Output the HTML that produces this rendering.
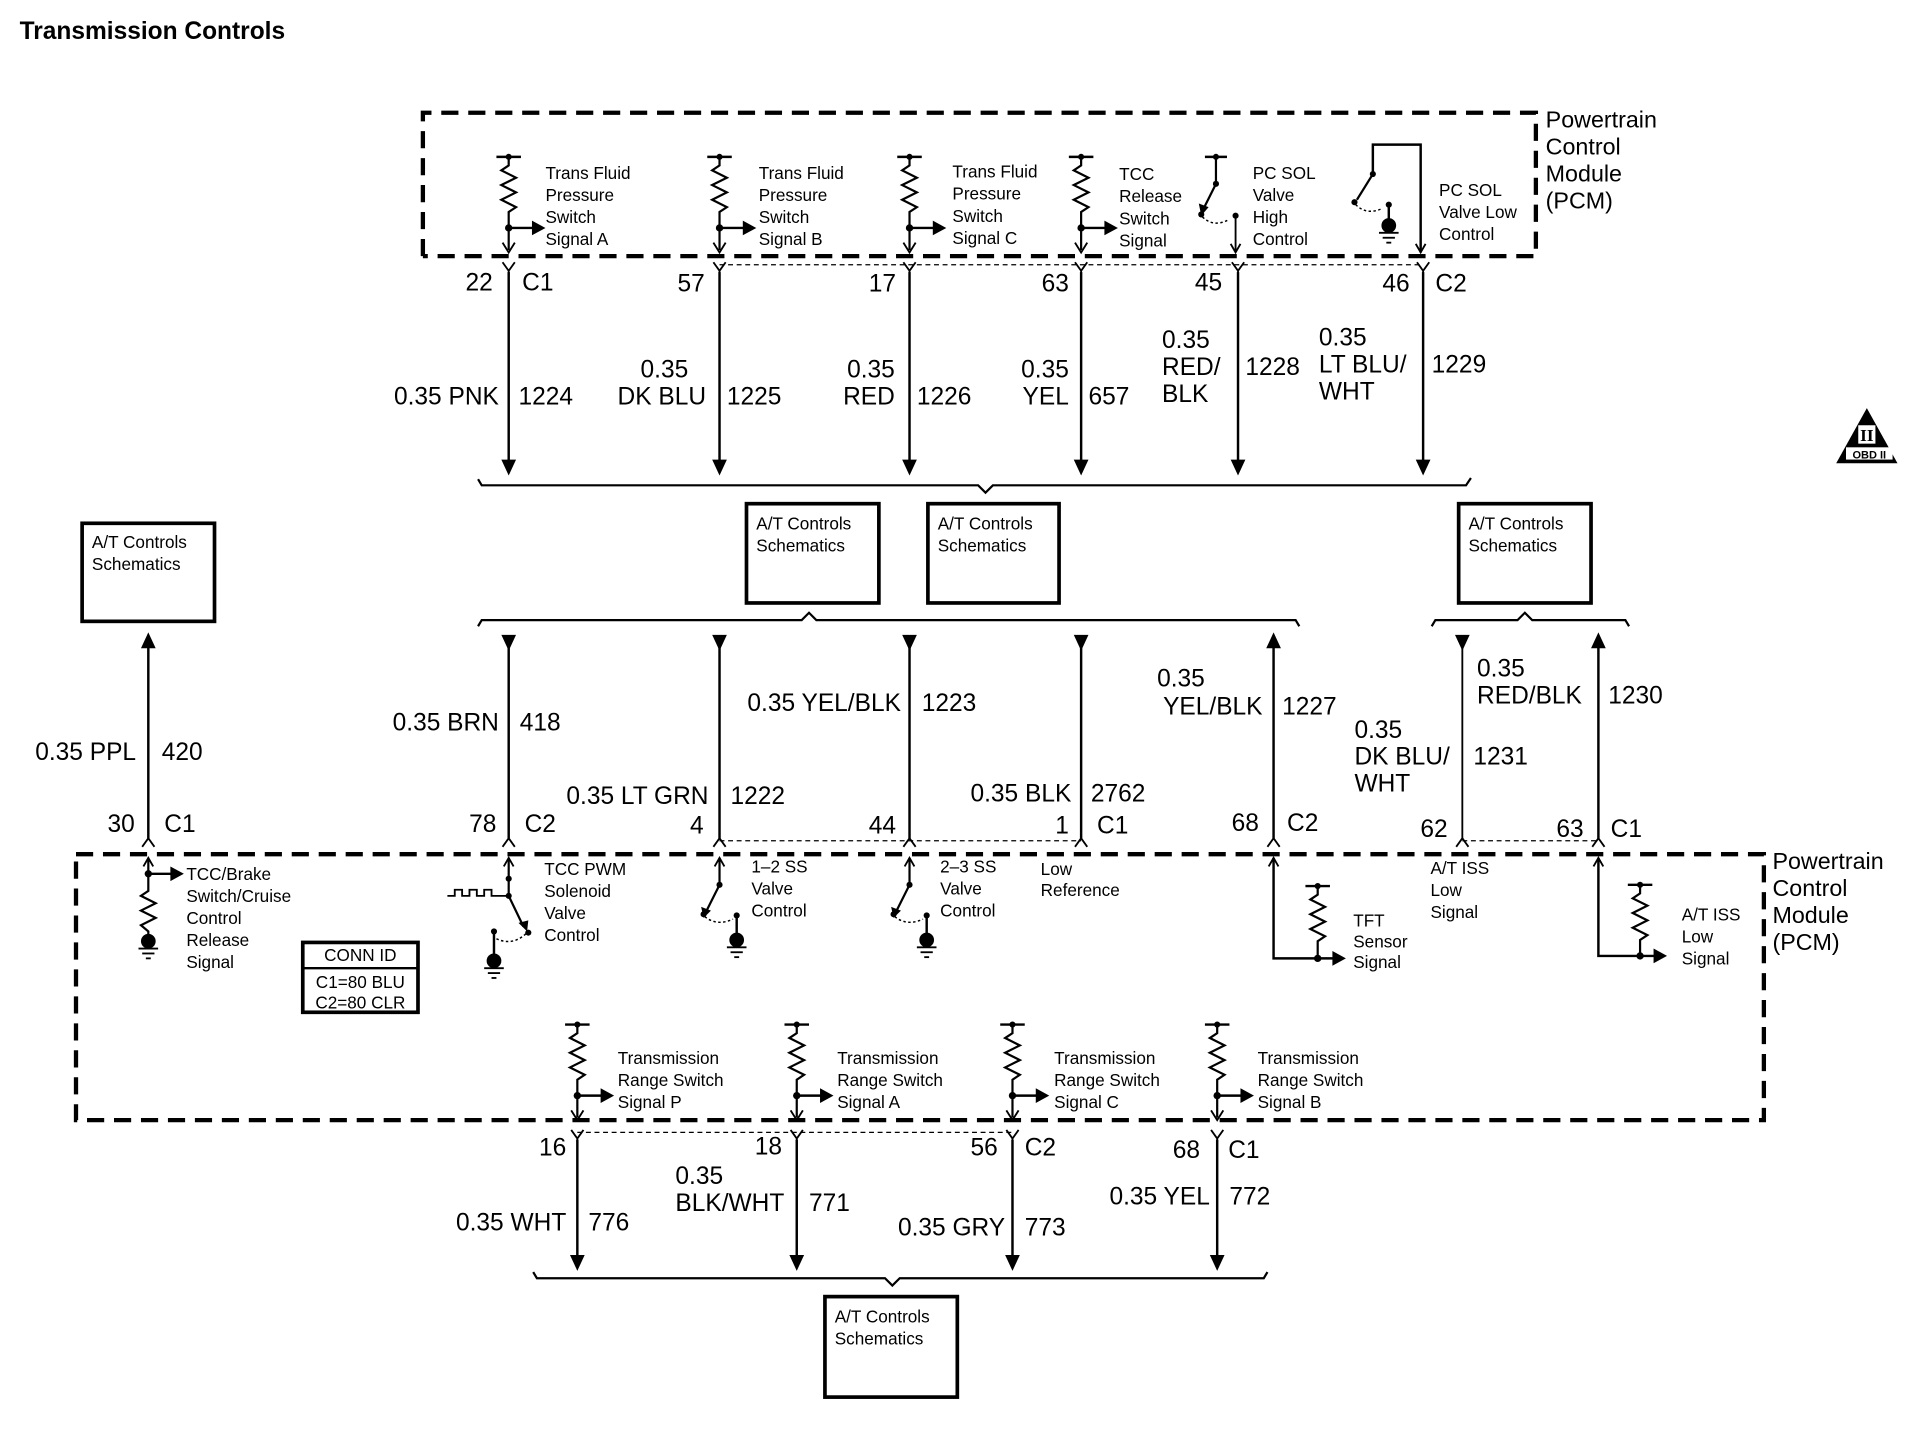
<!DOCTYPE html>
<html><head><meta charset="utf-8"><style>
html,body{margin:0;padding:0;background:#fff;}
svg{display:block;}
text{font-family:"Liberation Sans",sans-serif;fill:#000;}
.s{font-size:14px;}
.b{font-size:20px;}
.p{font-size:19px;}
</style></head><body>
<svg width="1922" height="1440" viewBox="0 0 1568 1175" preserveAspectRatio="none" xmlns="http://www.w3.org/2000/svg">
<defs>
<g id="res">
<line x1="-10" y1="0" x2="10" y2="0" stroke="#000" stroke-width="2"/>
<circle cx="0" cy="0" r="2.5"/>
<polyline points="0,0 0,7 -6,11 6,17 -6,23 6,29 -6,35 6,41 0,45 0,76" fill="none" stroke="#000" stroke-width="1.8"/>
<circle cx="0" cy="58" r="3"/>
<line x1="0" y1="58" x2="20" y2="58" stroke="#000" stroke-width="2"/>
<polygon points="19,52 30,58 19,64"/>
<polyline points="-5,70 0,78 5,70" fill="none" stroke="#000" stroke-width="1.5"/>
</g>
<polygon id="ad" points="-6,0 6,0 0,13"/>
<polygon id="au" points="-6,0 6,0 0,-13"/>
<polyline id="yc" points="-5,0 0,7 5,0 0,7 0,10" fill="none" stroke="#000" stroke-width="1.5"/>
<polyline id="vc" points="-5,0 0,-7 5,0" fill="none" stroke="#000" stroke-width="1.5"/>
<g id="gnd">
<circle cx="0" cy="0" r="6"/>
<line x1="-8" y1="6" x2="8" y2="6" stroke="#000" stroke-width="1.5"/>
<line x1="-5" y1="10" x2="5" y2="10" stroke="#000" stroke-width="1.5"/>
<line x1="-2" y1="14" x2="2" y2="14" stroke="#000" stroke-width="1.5"/>
</g>
</defs>

<text x="16" y="32" style="font-size:20px;font-weight:bold">Transmission Controls</text>

<!-- TOP PCM -->
<path d="M345,209 V92 H1253 V209 H345" fill="none" stroke="#000" stroke-width="3.5" stroke-dasharray="14 8"/>
<text class="p" x="1261" y="104">Powertrain</text>
<text class="p" x="1261" y="126">Control</text>
<text class="p" x="1261" y="148">Module</text>
<text class="p" x="1261" y="170">(PCM)</text>

<use href="#res" x="415" y="128"/>
<use href="#res" x="587" y="128"/>
<use href="#res" x="742" y="128"/>
<use href="#res" x="882" y="128"/>
<g class="s">
<text x="445" y="146">Trans Fluid</text><text x="445" y="164">Pressure</text><text x="445" y="182">Switch</text><text x="445" y="200">Signal A</text>
<text x="619" y="146">Trans Fluid</text><text x="619" y="164">Pressure</text><text x="619" y="182">Switch</text><text x="619" y="200">Signal B</text>
<text x="777" y="145">Trans Fluid</text><text x="777" y="163">Pressure</text><text x="777" y="181">Switch</text><text x="777" y="199">Signal C</text>
<text x="913" y="147">TCC</text><text x="913" y="165">Release</text><text x="913" y="183">Switch</text><text x="913" y="201">Signal</text>
<text x="1022" y="146">PC SOL</text><text x="1022" y="164">Valve</text><text x="1022" y="182">High</text><text x="1022" y="200">Control</text>
<text x="1174" y="160">PC SOL</text><text x="1174" y="178">Valve Low</text><text x="1174" y="196">Control</text>
</g>
<!-- PC SOL high switch -->
<line x1="983" y1="128" x2="1001" y2="128" stroke="#000" stroke-width="2"/>
<circle cx="992" cy="128" r="2.5"/>
<line x1="992" y1="128" x2="992" y2="150" stroke="#000" stroke-width="1.8"/>
<circle cx="992" cy="150" r="2.5"/>
<line x1="992" y1="150" x2="982" y2="170" stroke="#000" stroke-width="1.8"/>
<polygon points="978,166 986,169 980,176"/>
<circle cx="980" cy="175" r="2.5"/>
<path d="M981,177 Q990,186 1003,179" fill="none" stroke="#000" stroke-width="1.2" stroke-dasharray="2 2"/>
<circle cx="1008" cy="176" r="2.5"/>
<line x1="1008" y1="176" x2="1008" y2="206" stroke="#000" stroke-width="1.5"/>
<polyline points="1004,199 1008,206 1012,199" fill="none" stroke="#000" stroke-width="1.5"/>
<!-- PC SOL low -->
<polyline points="1120,142 1120,118 1159,118 1159,206" fill="none" stroke="#000" stroke-width="2"/>
<polyline points="1155,199 1159,206 1163,199" fill="none" stroke="#000" stroke-width="1.5"/>
<circle cx="1120" cy="142" r="2.5"/>
<line x1="1120" y1="142" x2="1107" y2="163" stroke="#000" stroke-width="1.8"/>
<circle cx="1105" cy="165" r="2.5"/>
<path d="M1106,167 Q1115,176 1128,170" fill="none" stroke="#000" stroke-width="1.2" stroke-dasharray="2 2"/>
<circle cx="1133" cy="167" r="2.5"/>
<line x1="1133" y1="167" x2="1133" y2="182" stroke="#000" stroke-width="2"/>
<use href="#gnd" x="1133" y="184"/>

<!-- top connectors -->
<line x1="587" y1="216" x2="1161" y2="216" stroke="#000" stroke-width="1" stroke-dasharray="4 3"/>
<g>
<use href="#yc" x="415" y="214"/><use href="#yc" x="587" y="214"/><use href="#yc" x="742" y="214"/>
<use href="#yc" x="882" y="214"/><use href="#yc" x="1010" y="214"/><use href="#yc" x="1161" y="214"/>
</g>
<g stroke="#000" stroke-width="2">
<line x1="415" y1="222" x2="415" y2="378"/><line x1="587" y1="222" x2="587" y2="378"/>
<line x1="742" y1="222" x2="742" y2="378"/><line x1="882" y1="222" x2="882" y2="378"/>
<line x1="1010" y1="222" x2="1010" y2="378"/><line x1="1161" y1="222" x2="1161" y2="378"/>
</g>
<use href="#ad" x="415" y="375"/><use href="#ad" x="587" y="375"/><use href="#ad" x="742" y="375"/>
<use href="#ad" x="882" y="375"/><use href="#ad" x="1010" y="375"/><use href="#ad" x="1161" y="375"/>
<g class="b">
<text x="402" y="237" text-anchor="end">22</text><text x="426" y="237">C1</text>
<text x="575" y="238" text-anchor="end">57</text>
<text x="731" y="238" text-anchor="end">17</text>
<text x="872" y="238" text-anchor="end">63</text>
<text x="997" y="237" text-anchor="end">45</text>
<text x="1150" y="238" text-anchor="end">46</text><text x="1171" y="238">C2</text>
<text x="407" y="330" text-anchor="end">0.35 PNK</text><text x="423" y="330">1224</text>
<text x="542" y="308" text-anchor="middle">0.35</text><text x="576" y="330" text-anchor="end">DK BLU</text><text x="593" y="330">1225</text>
<text x="730" y="308" text-anchor="end">0.35</text><text x="730" y="330" text-anchor="end">RED</text><text x="748" y="330">1226</text>
<text x="872" y="308" text-anchor="end">0.35</text><text x="872" y="330" text-anchor="end">YEL</text><text x="888" y="330">657</text>
<text x="948" y="284">0.35</text><text x="948" y="306">RED/</text><text x="948" y="328">BLK</text><text x="1016" y="306">1228</text>
<text x="1076" y="282">0.35</text><text x="1076" y="304">LT BLU/</text><text x="1076" y="326">WHT</text><text x="1168" y="304">1229</text>
</g>
<!-- top brace -->
<polyline points="390,391 393,396 798,396 804,402 810,396 1196,396 1200,390" fill="none" stroke="#000" stroke-width="1.8"/>

<!-- schematic boxes -->
<g fill="none" stroke="#000" stroke-width="3">
<rect x="609" y="411" width="108" height="81"/>
<rect x="757" y="411" width="107" height="81"/>
<rect x="1190" y="411" width="108" height="81"/>
<rect x="67" y="427" width="108" height="80"/>
<rect x="673" y="1058" width="108" height="82"/>
</g>
<g class="s">
<text x="617" y="432">A/T Controls</text><text x="617" y="450">Schematics</text>
<text x="765" y="432">A/T Controls</text><text x="765" y="450">Schematics</text>
<text x="1198" y="432">A/T Controls</text><text x="1198" y="450">Schematics</text>
<text x="75" y="447">A/T Controls</text><text x="75" y="465">Schematics</text>
<text x="681" y="1079">A/T Controls</text><text x="681" y="1097">Schematics</text>
</g>

<!-- middle braces -->
<polyline points="390,511 393,506 654,506 660,500 666,506 1057,506 1060,511" fill="none" stroke="#000" stroke-width="1.8"/>
<polyline points="1168,511 1171,506 1238,506 1244,500 1250,506 1326,506 1329,511" fill="none" stroke="#000" stroke-width="1.8"/>

<!-- middle wires -->
<g stroke="#000" stroke-width="2">
<line x1="121" y1="525" x2="121" y2="684"/>
<line x1="415" y1="520" x2="415" y2="684"/><line x1="587" y1="520" x2="587" y2="684"/>
<line x1="742" y1="520" x2="742" y2="684"/><line x1="882" y1="520" x2="882" y2="684"/>
<line x1="1039" y1="525" x2="1039" y2="684"/><line x1="1193" y1="520" x2="1193" y2="684" stroke-width="1.5"/>
<line x1="1304" y1="525" x2="1304" y2="684"/>
</g>
<use href="#au" x="121" y="529"/>
<use href="#ad" x="415" y="518"/><use href="#ad" x="587" y="518"/><use href="#ad" x="742" y="518"/>
<use href="#ad" x="882" y="518"/><use href="#au" x="1039" y="529"/><use href="#ad" x="1193" y="518"/>
<use href="#au" x="1304" y="529"/>
<g class="b">
<text x="111" y="620" text-anchor="end">0.35 PPL</text><text x="132" y="620">420</text>
<text x="407" y="596" text-anchor="end">0.35 BRN</text><text x="424" y="596">418</text>
<text x="578" y="656" text-anchor="end">0.35 LT GRN</text><text x="596" y="656">1222</text>
<text x="735" y="580" text-anchor="end">0.35 YEL/BLK</text><text x="752" y="580">1223</text>
<text x="874" y="654" text-anchor="end">0.35 BLK</text><text x="890" y="654">2762</text>
<text x="944" y="560">0.35</text><text x="1030" y="583" text-anchor="end">YEL/BLK</text><text x="1046" y="583">1227</text>
<text x="1105" y="602">0.35</text><text x="1105" y="624">DK BLU/</text><text x="1105" y="646">WHT</text><text x="1202" y="624">1231</text>
<text x="1205" y="552">0.35</text><text x="1205" y="574">RED/BLK</text><text x="1312" y="574">1230</text>
<text x="110" y="679" text-anchor="end">30</text><text x="134" y="679">C1</text>
<text x="405" y="679" text-anchor="end">78</text><text x="428" y="679">C2</text>
<text x="574" y="680" text-anchor="end">4</text>
<text x="731" y="680" text-anchor="end">44</text>
<text x="872" y="680" text-anchor="end">1</text><text x="895" y="680">C1</text>
<text x="1027" y="678" text-anchor="end">68</text><text x="1050" y="678">C2</text>
<text x="1181" y="683" text-anchor="end">62</text><text x="1292" y="683" text-anchor="end">63</text><text x="1314" y="683">C1</text>
</g>
<line x1="587" y1="686" x2="882" y2="686" stroke="#000" stroke-width="1" stroke-dasharray="4 3"/>
<line x1="1193" y1="686" x2="1304" y2="686" stroke="#000" stroke-width="1" stroke-dasharray="4 3"/>
<use href="#vc" x="121" y="691"/><use href="#vc" x="415" y="691"/><use href="#vc" x="587" y="691"/>
<use href="#vc" x="742" y="691"/><use href="#vc" x="882" y="691"/><use href="#vc" x="1039" y="691"/>
<use href="#vc" x="1193" y="691"/><use href="#vc" x="1304" y="691"/>

<!-- bottom PCM -->
<rect x="62" y="697" width="1377" height="217" fill="none" stroke="#000" stroke-width="3.5" stroke-dasharray="14 8"/>
<g class="p">
<text x="1446" y="709">Powertrain</text><text x="1446" y="731">Control</text><text x="1446" y="753">Module</text><text x="1446" y="775">(PCM)</text>
</g>

<!-- internal up arrows -->
<g stroke="#000" stroke-width="1.5" fill="none">
<polyline points="117,707 121,700 125,707"/><polyline points="411,707 415,700 419,707"/>
<polyline points="583,707 587,700 591,707"/><polyline points="738,707 742,700 746,707"/>
<polyline points="1035,707 1039,700 1043,707"/><polyline points="1300,707 1304,700 1308,707"/>
</g>
<!-- TCC/Brake -->
<polyline points="121,700 121,722 121,727 115,731 127,737 115,743 127,749 115,755 121,760 121,766" fill="none" stroke="#000" stroke-width="1.8"/>
<circle cx="121" cy="713" r="3"/>
<line x1="121" y1="713" x2="140" y2="713" stroke="#000" stroke-width="2"/>
<polygon points="139,707 150,713 139,719"/>
<use href="#gnd" x="121" y="768"/>
<g class="s">
<text x="152" y="718">TCC/Brake</text><text x="152" y="736">Switch/Cruise</text><text x="152" y="754">Control</text><text x="152" y="772">Release</text><text x="152" y="790">Signal</text>
</g>
<!-- TCC PWM -->
<line x1="415" y1="700" x2="415" y2="731" stroke="#000" stroke-width="1.8"/>
<circle cx="415" cy="717" r="2.5"/><circle cx="415" cy="731" r="2.5"/>
<polyline points="365,731 371,731 371,726 377,726 377,731 383,731 383,726 389,726 389,731 395,731 395,726 401,726 401,731 415,731" fill="none" stroke="#000" stroke-width="1.5"/>
<line x1="415" y1="731" x2="427" y2="756" stroke="#000" stroke-width="1.8"/>
<polygon points="423,753 431,751 430,760"/>
<circle cx="431" cy="761" r="2.5"/>
<path d="M429,762 Q418,772 405,766" fill="none" stroke="#000" stroke-width="1.2" stroke-dasharray="2 2"/>
<circle cx="403" cy="760" r="2.5"/>
<line x1="403" y1="760" x2="403" y2="782" stroke="#000" stroke-width="2"/>
<use href="#gnd" x="403" y="784"/>
<g class="s"><text x="444" y="714">TCC PWM</text><text x="444" y="732">Solenoid</text><text x="444" y="750">Valve</text><text x="444" y="768">Control</text></g>
<!-- 1-2 SS -->
<line x1="587" y1="700" x2="587" y2="722" stroke="#000" stroke-width="1.8"/>
<circle cx="587" cy="722" r="2.5"/>
<line x1="587" y1="722" x2="576" y2="744" stroke="#000" stroke-width="1.8"/>
<polygon points="572,740 580,743 574,749"/>
<circle cx="574" cy="746" r="2.5"/>
<path d="M575,748 Q585,756 598,750" fill="none" stroke="#000" stroke-width="1.2" stroke-dasharray="2 2"/>
<circle cx="601" cy="747" r="2.5"/>
<line x1="601" y1="747" x2="601" y2="764" stroke="#000" stroke-width="2"/>
<use href="#gnd" x="601" y="767"/>
<g class="s"><text x="613" y="712">1–2 SS</text><text x="613" y="730">Valve</text><text x="613" y="748">Control</text></g>
<!-- 2-3 SS -->
<line x1="742" y1="700" x2="742" y2="722" stroke="#000" stroke-width="1.8"/>
<circle cx="742" cy="722" r="2.5"/>
<line x1="742" y1="722" x2="731" y2="744" stroke="#000" stroke-width="1.8"/>
<polygon points="727,740 735,743 729,749"/>
<circle cx="729" cy="746" r="2.5"/>
<path d="M730,748 Q740,756 753,750" fill="none" stroke="#000" stroke-width="1.2" stroke-dasharray="2 2"/>
<circle cx="756" cy="747" r="2.5"/>
<line x1="756" y1="747" x2="756" y2="764" stroke="#000" stroke-width="2"/>
<use href="#gnd" x="756" y="767"/>
<g class="s"><text x="767" y="712">2–3 SS</text><text x="767" y="730">Valve</text><text x="767" y="748">Control</text></g>
<g class="s"><text x="849" y="714">Low</text><text x="849" y="731">Reference</text></g>
<!-- TFT -->
<polyline points="1039,700 1039,782 1088,782" fill="none" stroke="#000" stroke-width="2"/>
<polygon points="1087,776 1098,782 1087,788"/>
<line x1="1065" y1="723" x2="1085" y2="723" stroke="#000" stroke-width="2"/>
<circle cx="1075" cy="723" r="2.5"/>
<polyline points="1075,723 1075,730 1069,734 1081,740 1069,746 1081,752 1069,758 1081,764 1075,768 1075,782" fill="none" stroke="#000" stroke-width="1.8"/>
<circle cx="1075" cy="782" r="3"/>
<g class="s"><text x="1104" y="756">TFT</text><text x="1104" y="773">Sensor</text><text x="1104" y="790">Signal</text></g>
<g class="s"><text x="1167" y="713">A/T ISS</text><text x="1167" y="731">Low</text><text x="1167" y="749">Signal</text></g>
<!-- A/T ISS right -->
<polyline points="1304,700 1304,780 1350,780" fill="none" stroke="#000" stroke-width="2"/>
<polygon points="1349,774 1360,780 1349,786"/>
<line x1="1328" y1="722" x2="1348" y2="722" stroke="#000" stroke-width="2"/>
<circle cx="1338" cy="722" r="2.5"/>
<polyline points="1338,722 1338,729 1332,733 1344,739 1332,745 1344,751 1332,757 1344,763 1338,767 1338,780" fill="none" stroke="#000" stroke-width="1.8"/>
<circle cx="1338" cy="780" r="3"/>
<g class="s"><text x="1372" y="751">A/T ISS</text><text x="1372" y="769">Low</text><text x="1372" y="787">Signal</text></g>
<!-- CONN ID -->
<rect x="247" y="769" width="94" height="57" fill="none" stroke="#000" stroke-width="3"/>
<line x1="247" y1="790" x2="341" y2="790" stroke="#000" stroke-width="2"/>
<g class="s" text-anchor="middle"><text x="294" y="784">CONN ID</text><text x="294" y="806">C1=80 BLU</text><text x="294" y="823">C2=80 CLR</text></g>

<!-- bottom resistors -->
<use href="#res" x="471" y="836"/><use href="#res" x="650" y="836"/>
<use href="#res" x="826" y="836"/><use href="#res" x="993" y="836"/>
<g class="s">
<text x="504" y="868">Transmission</text><text x="504" y="886">Range Switch</text><text x="504" y="904">Signal P</text>
<text x="683" y="868">Transmission</text><text x="683" y="886">Range Switch</text><text x="683" y="904">Signal A</text>
<text x="860" y="868">Transmission</text><text x="860" y="886">Range Switch</text><text x="860" y="904">Signal C</text>
<text x="1026" y="868">Transmission</text><text x="1026" y="886">Range Switch</text><text x="1026" y="904">Signal B</text>
</g>
<line x1="471" y1="924" x2="826" y2="924" stroke="#000" stroke-width="1" stroke-dasharray="4 3"/>
<use href="#yc" x="471" y="922"/><use href="#yc" x="650" y="922"/><use href="#yc" x="826" y="922"/><use href="#yc" x="993" y="922"/>
<g stroke="#000" stroke-width="2">
<line x1="471" y1="930" x2="471" y2="1027"/><line x1="650" y1="930" x2="650" y2="1027"/>
<line x1="826" y1="930" x2="826" y2="1027"/><line x1="993" y1="930" x2="993" y2="1027"/>
</g>
<use href="#ad" x="471" y="1024"/><use href="#ad" x="650" y="1024"/><use href="#ad" x="826" y="1024"/><use href="#ad" x="993" y="1024"/>
<g class="b">
<text x="462" y="943" text-anchor="end">16</text>
<text x="638" y="942" text-anchor="end">18</text>
<text x="814" y="943" text-anchor="end">56</text><text x="836" y="943">C2</text>
<text x="979" y="945" text-anchor="end">68</text><text x="1002" y="945">C1</text>
<text x="462" y="1004" text-anchor="end">0.35 WHT</text><text x="480" y="1004">776</text>
<text x="551" y="966">0.35</text><text x="551" y="988">BLK/WHT</text><text x="660" y="988">771</text>
<text x="820" y="1008" text-anchor="end">0.35 GRY</text><text x="836" y="1008">773</text>
<text x="987" y="983" text-anchor="end">0.35 YEL</text><text x="1003" y="983">772</text>
</g>
<polyline points="435,1038 438,1043 722,1043 728,1049 734,1043 1031,1043 1034,1038" fill="none" stroke="#000" stroke-width="1.8"/>

<!-- OBD II -->
<polygon points="1523,333 1498,378 1548,378" fill="#000"/>
<rect x="1506" y="365" width="38" height="10" fill="#fff"/>
<text x="1525" y="374" text-anchor="middle" style="font-size:9px;font-weight:bold">OBD II</text>
<rect x="1516" y="347" width="14" height="15" fill="#fff"/>
<text x="1523" y="360" text-anchor="middle" style="font-size:14px;font-weight:bold;font-family:'Liberation Serif',serif">II</text>
</svg>
</body></html>
